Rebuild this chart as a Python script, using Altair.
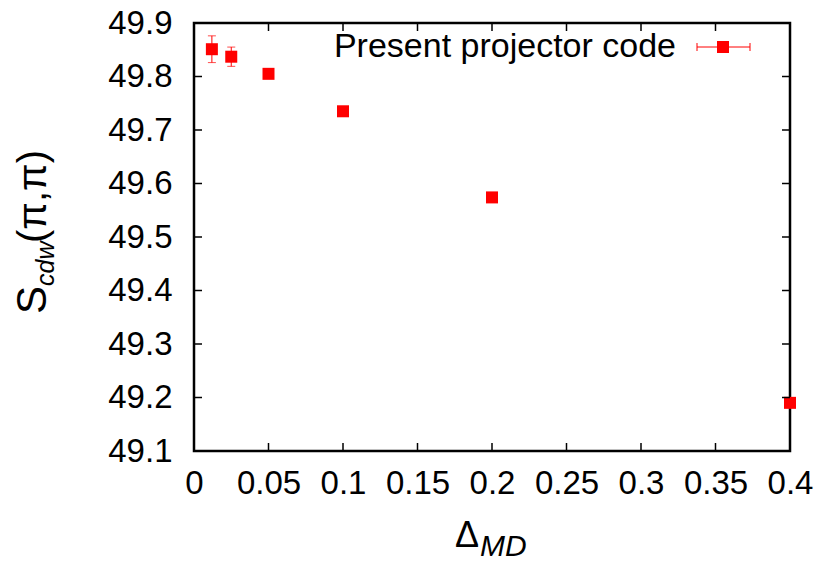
import altair as alt
import pandas as pd

# ---- data ----
delta_md = [0.012, 0.025, 0.05, 0.1, 0.2, 0.4]
s_cdw = [49.851, 49.837, 49.805, 49.735, 49.574, 49.190]
s_err = [0.025, 0.018, 0.0065, 0.0015, 0.003, 0.0015]
x_ticks = [0, 0.05, 0.1, 0.15, 0.2, 0.25, 0.3, 0.35, 0.4]
y_ticks = [49.1, 49.2, 49.3, 49.4, 49.5, 49.6, 49.7, 49.8, 49.9]
legend_label = "Present projector code"

W, H = 596, 428
RED = "#ff0000"
FONT = "Liberation Sans"

df = pd.DataFrame({
    "x": delta_md,
    "y": s_cdw,
    "lo": [v - e for v, e in zip(s_cdw, s_err)],
    "hi": [v + e for v, e in zip(s_cdw, s_err)],
})
xt = pd.DataFrame({"x": x_ticks})
yt = pd.DataFrame({"y": y_ticks})
one = pd.DataFrame({"k": [0]})

xs = alt.Scale(domain=[0, 0.4], nice=False, zero=False)
ys = alt.Scale(domain=[49.1, 49.9], nice=False, zero=False)

xax = alt.Axis(values=x_ticks, format="~g", ticks=False, tickSize=0, domain=False,
               grid=False, title=None, labelFontSize=33, labelFont=FONT,
               labelColor="black", labelPadding=16, labelFlush=False,
               labelOverlap=False)
yax = alt.Axis(values=y_ticks, format=".1f", ticks=False, tickSize=0, domain=False,
               grid=False, title=None, labelFontSize=33, labelFont=FONT,
               labelColor="black", labelPadding=22, labelFlush=False,
               labelOverlap=False)

base = alt.Chart(df)

err = base.mark_rule(color=RED, strokeWidth=1).encode(
    x=alt.X("x:Q", scale=xs, axis=xax),
    y=alt.Y("lo:Q", scale=ys, axis=yax),
    y2="hi:Q",
)
cap_lo = base.mark_tick(orient="horizontal", size=8, thickness=1, color=RED).encode(
    x=alt.X("x:Q", scale=xs), y=alt.Y("lo:Q", scale=ys))
cap_hi = base.mark_tick(orient="horizontal", size=8, thickness=1, color=RED).encode(
    x=alt.X("x:Q", scale=xs), y=alt.Y("hi:Q", scale=ys))
pts = base.mark_point(shape="square", filled=True, size=144, color=RED, opacity=1).encode(
    x=alt.X("x:Q", scale=xs), y=alt.Y("y:Q", scale=ys))

TL = 8
tick_style = dict(color="black", strokeWidth=1.5)
t_bottom = alt.Chart(xt).mark_rule(**tick_style).encode(
    x=alt.X("x:Q", scale=xs), y=alt.value(H), y2=alt.value(H - TL))
t_top = alt.Chart(xt).mark_rule(**tick_style).encode(
    x=alt.X("x:Q", scale=xs), y=alt.value(0), y2=alt.value(TL))
t_left = alt.Chart(yt).mark_rule(**tick_style).encode(
    y=alt.Y("y:Q", scale=ys), x=alt.value(0), x2=alt.value(TL))
t_right = alt.Chart(yt).mark_rule(**tick_style).encode(
    y=alt.Y("y:Q", scale=ys), x=alt.value(W), x2=alt.value(W - TL))

# ---- legend (gnuplot key, top right) ----
leg_text = alt.Chart(one).mark_text(text=legend_label, font=FONT, fontSize=34,
                                    align="right", baseline="alphabetic",
                                    color="black").encode(
    x=alt.value(482), y=alt.value(34))
leg_bar = alt.Chart(one).mark_rule(color=RED, strokeWidth=1).encode(
    x=alt.value(503), x2=alt.value(556), y=alt.value(24))
leg_cap1 = alt.Chart(one).mark_rule(color=RED, strokeWidth=1).encode(
    x=alt.value(503), y=alt.value(20), y2=alt.value(28))
leg_cap2 = alt.Chart(one).mark_rule(color=RED, strokeWidth=1).encode(
    x=alt.value(556), y=alt.value(20), y2=alt.value(28))
leg_pt = alt.Chart(one).mark_point(shape="square", filled=True, size=144,
                                   color=RED, opacity=1).encode(
    x=alt.value(529), y=alt.value(24))

# ---- axis titles with subscripts ----
OX, OY = 194, 23
yt_S = alt.Chart(one).mark_text(text="S", font=FONT, fontSize=42, angle=270,
                                align="left", baseline="alphabetic", color="black").encode(
    x=alt.value(46 - OX), y=alt.value(314 - OY))
yt_sub = alt.Chart(one).mark_text(text="cdw", font=FONT, fontSize=25, fontStyle="italic",
                                  angle=270, align="left", baseline="alphabetic",
                                  color="black").encode(
    x=alt.value(54 - OX), y=alt.value(286 - OY))
yt_pi = alt.Chart(one).mark_text(text="(π,π)", font=FONT, fontSize=40, angle=270,
                                 align="left", baseline="alphabetic", color="black").encode(
    x=alt.value(46 - OX), y=alt.value(243 - OY))
xt_D = alt.Chart(one).mark_text(text="Δ", font=FONT, fontSize=36, align="left",
                                baseline="alphabetic", color="black").encode(
    x=alt.value(455 - OX), y=alt.value(547 - OY))
xt_sub = alt.Chart(one).mark_text(text="MD", font=FONT, fontSize=30, fontStyle="italic",
                                  align="left", baseline="alphabetic", color="black").encode(
    x=alt.value(480 - OX), y=alt.value(556 - OY))

chart = alt.layer(
    err, cap_lo, cap_hi, pts,
    t_bottom, t_top, t_left, t_right,
    leg_text, leg_bar, leg_cap1, leg_cap2, leg_pt,
    yt_S, yt_sub, yt_pi, xt_D, xt_sub,
).properties(
    width=W, height=H,
    autosize=alt.AutoSizeParams(type="none"),
    padding={"left": OX, "top": OY, "right": 825 - OX - W, "bottom": 565 - OY - H},
    background="white",
).configure_view(stroke="black", strokeWidth=2.5)

chart.save("out.html", embed_options={"renderer": "svg", "actions": False})
